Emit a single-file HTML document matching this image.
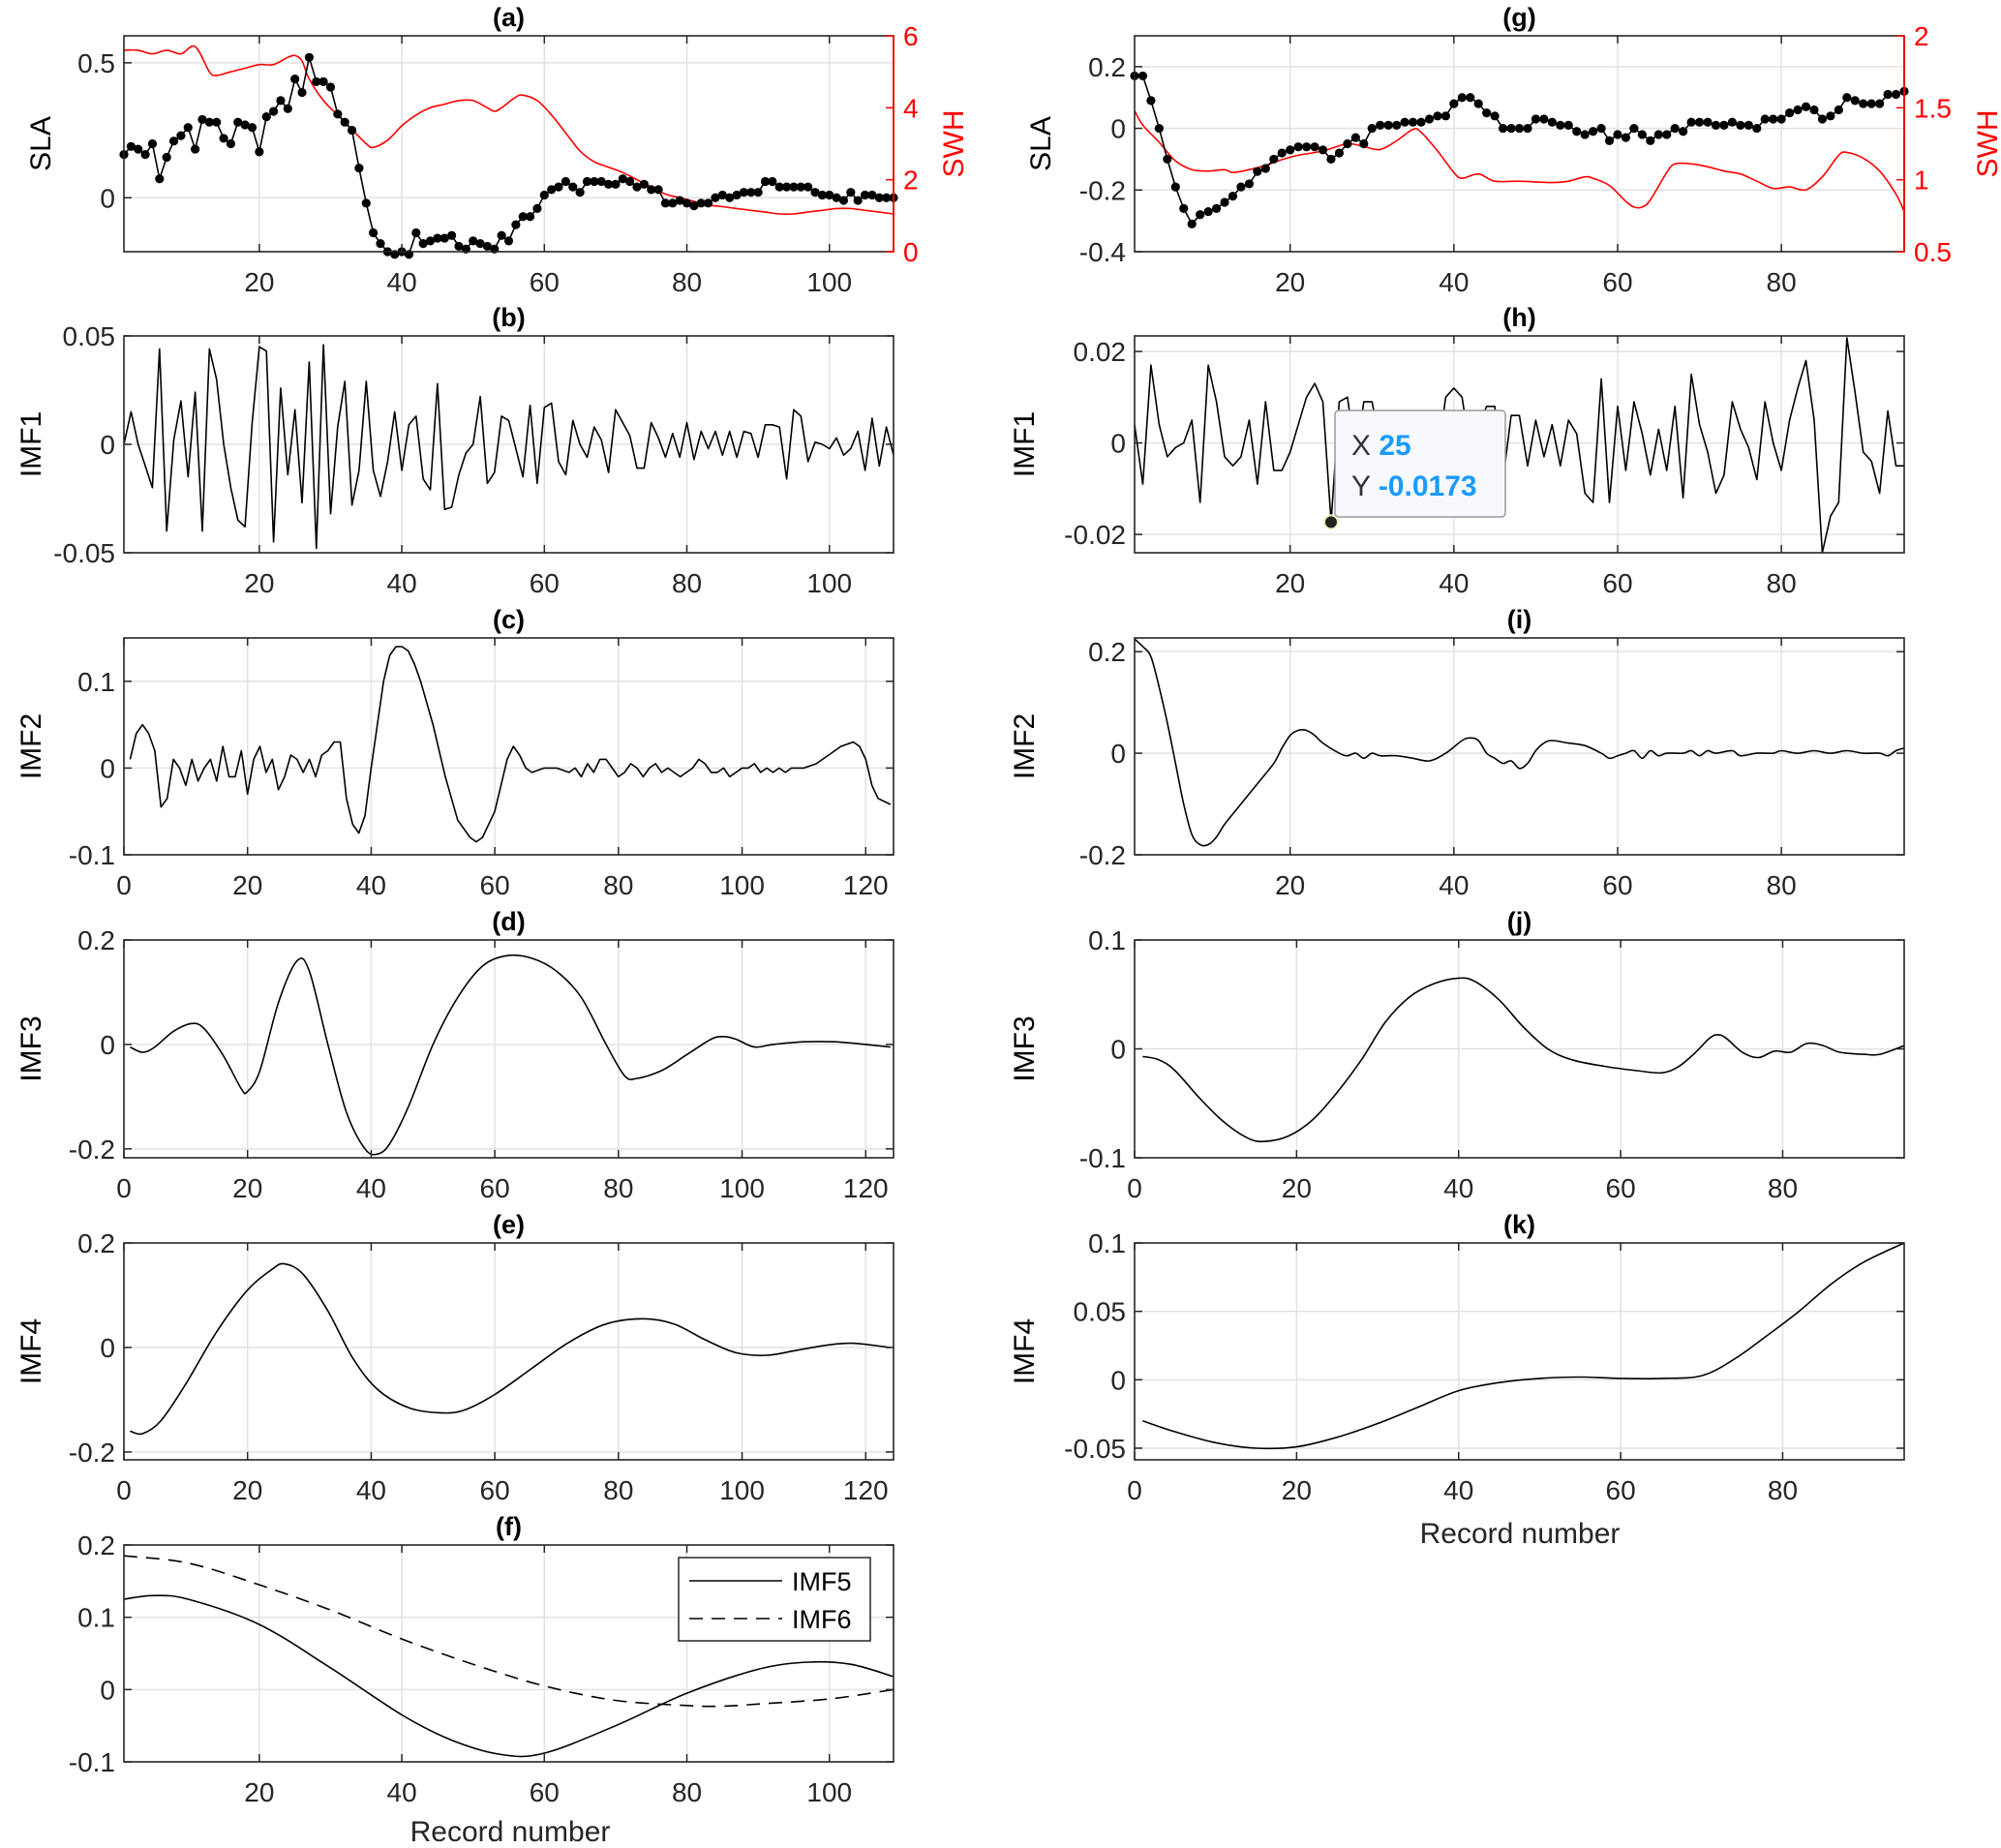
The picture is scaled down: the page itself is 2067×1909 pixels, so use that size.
<!DOCTYPE html>
<html><head><meta charset="utf-8"><style>
html,body{margin:0;padding:0;background:#fff}
svg{display:block;font-family:"Liberation Sans",Arial,sans-serif}
</style></head><body>
<svg id="chart" width="2067" height="1909" viewBox="0 0 2067 1909" xmlns="http://www.w3.org/2000/svg"></svg>
<script>
// ---------- data ----------
const aSLA=[0.16,0.19,0.18,0.16,0.2,0.07,0.15,0.21,0.23,0.26,0.18,0.29,0.28,0.28,0.22,0.2,0.28,0.27,0.26,0.17,0.3,0.32,0.36,0.33,0.44,0.39,0.52,0.43,0.43,0.41,0.31,0.28,0.25,0.11,-0.02,-0.13,-0.17,-0.2,-0.21,-0.2,-0.21,-0.13,-0.17,-0.16,-0.15,-0.15,-0.14,-0.18,-0.19,-0.16,-0.17,-0.18,-0.19,-0.14,-0.16,-0.1,-0.07,-0.07,-0.04,0.01,0.03,0.04,0.06,0.04,0.02,0.06,0.06,0.06,0.05,0.05,0.07,0.06,0.04,0.05,0.03,0.03,-0.02,-0.02,-0.01,-0.02,-0.03,-0.02,-0.02,0.0,0.01,0.0,0.01,0.02,0.02,0.02,0.06,0.06,0.04,0.04,0.04,0.04,0.04,0.02,0.01,0.01,0.0,-0.01,0.02,-0.01,0.01,0.01,0.0,0.0,0.0];
const aSWHx=[1,3,5,7,9,11,13,14,16,18,20,22,24,25,26,27,29,31,33,35,36,38,40,42,44,46,48,50,52,53,54,56,57,59,61,63,65,67,69,71,73,75,77,79,81,83,85,87,89,91,93,95,97,99,101,103,105,107,109];
const aSWH=[5.6,5.6,5.5,5.6,5.5,5.7,5.0,4.9,5.0,5.1,5.2,5.2,5.4,5.45,5.3,4.8,4.2,3.8,3.4,3.0,2.9,3.1,3.5,3.8,4.0,4.1,4.2,4.2,4.0,3.9,4.0,4.3,4.35,4.2,3.8,3.3,2.8,2.5,2.35,2.2,2.0,1.8,1.6,1.5,1.4,1.3,1.25,1.2,1.15,1.1,1.05,1.05,1.1,1.15,1.2,1.2,1.15,1.1,1.05];
const bIMF1=[0.0,0.015,0.0,-0.01,-0.02,0.044,-0.04,0.002,0.02,-0.015,0.024,-0.04,0.044,0.03,0.0,-0.02,-0.035,-0.038,0.01,0.045,0.043,-0.045,0.026,-0.014,0.016,-0.027,0.038,-0.048,0.046,-0.032,0.008,0.029,-0.028,-0.012,0.029,-0.012,-0.024,-0.008,0.015,-0.012,0.009,0.013,-0.016,-0.021,0.028,-0.03,-0.029,-0.014,-0.004,0.0,0.022,-0.018,-0.013,0.013,0.011,-0.002,-0.015,0.018,-0.018,0.017,0.019,-0.008,-0.014,0.011,0.0,-0.006,0.008,0.002,-0.013,0.016,0.01,0.004,-0.011,-0.011,0.01,0.003,-0.006,0.005,-0.006,0.01,-0.007,0.006,-0.002,0.006,-0.005,0.006,-0.006,0.006,0.005,-0.006,0.009,0.009,0.008,-0.016,0.016,0.013,-0.008,0.001,0.0,-0.002,0.003,-0.005,-0.002,0.006,-0.012,0.012,-0.01,0.008,-0.005];
const cX=[1,2,3,4,5,6,7,8,9,10,11,12,13,14,15,16,17,18,19,20,21,22,23,24,25,26,27,28,29,30,31,32,33,34,35,36,37,38,39,40,41,42,43,44,45,46,47,48,50,52,54,56,57,58,60,61,62,63,64,65,66,68,70,72,73,74,75,76,77,78,80,81,82,83,84,85,86,87,88,90,92,93,94,95,96,97,98,99,100,101,102,103,104,105,106,107,108,110,112,114,116,118,119,120,121,122,124];
const cIMF2=[0.01,0.04,0.05,0.04,0.02,-0.045,-0.035,0.01,0.0,-0.02,0.01,-0.015,0.0,0.01,-0.015,0.025,-0.01,-0.01,0.02,-0.03,0.01,0.025,-0.005,0.01,-0.025,-0.01,0.015,0.01,-0.005,0.01,-0.01,0.015,0.02,0.03,0.03,-0.035,-0.065,-0.075,-0.055,0.0,0.05,0.1,0.13,0.14,0.14,0.135,0.12,0.1,0.05,-0.01,-0.06,-0.08,-0.085,-0.08,-0.05,-0.02,0.01,0.025,0.015,0.0,-0.005,0.0,0.0,-0.005,0.0,-0.01,0.005,-0.005,0.01,0.01,-0.01,-0.005,0.005,0.0,-0.01,0.0,0.005,-0.005,0.0,-0.01,0.0,0.01,0.005,-0.005,-0.005,0.0,-0.01,-0.005,0.0,0.0,0.005,-0.005,0.0,-0.005,0.0,-0.005,0.0,0.0,0.005,0.015,0.025,0.03,0.025,0.01,-0.02,-0.035,-0.042];
const dX=[1,3,5,8,11,13,16,19,20,22,25,28,30,33,36,39,41,43,46,50,54,58,62,66,70,74,78,81,83,87,91,95,97,99,102,105,110,115,120,124];
const dIMF3=[-0.005,-0.015,-0.005,0.025,0.04,0.03,-0.02,-0.085,-0.09,-0.05,0.08,0.16,0.14,0.0,-0.13,-0.2,-0.21,-0.19,-0.12,0.0,0.09,0.15,0.17,0.165,0.14,0.09,0.0,-0.06,-0.065,-0.05,-0.02,0.01,0.015,0.01,-0.005,0.0,0.005,0.005,0.0,-0.005];
const eX=[1,3,6,10,15,20,24,26,29,33,37,41,46,51,55,60,66,72,78,84,89,94,99,104,109,114,118,124];
const eIMF4=[-0.16,-0.165,-0.14,-0.07,0.03,0.11,0.15,0.16,0.14,0.07,-0.02,-0.08,-0.115,-0.125,-0.12,-0.09,-0.04,0.01,0.045,0.055,0.045,0.015,-0.01,-0.015,-0.005,0.005,0.008,0.0];
const f5X=[1,5,10,20,30,40,47,54,60,70,80,90,97,103,109];
const fIMF5=[0.125,0.13,0.125,0.09,0.03,-0.035,-0.07,-0.09,-0.088,-0.05,-0.005,0.028,0.038,0.035,0.018];
const f6X=[1,10,20,30,40,50,60,70,80,85,90,100,109];
const fIMF6=[0.185,0.175,0.145,0.11,0.07,0.035,0.005,-0.015,-0.022,-0.023,-0.02,-0.013,0.0];
const gSLA=[0.17,0.17,0.09,0.0,-0.1,-0.19,-0.26,-0.31,-0.28,-0.27,-0.26,-0.24,-0.22,-0.19,-0.18,-0.14,-0.13,-0.1,-0.08,-0.07,-0.06,-0.06,-0.06,-0.07,-0.1,-0.08,-0.05,-0.03,-0.05,0.0,0.01,0.01,0.01,0.02,0.02,0.02,0.03,0.04,0.04,0.08,0.1,0.1,0.08,0.05,0.04,0.0,0.0,0.0,0.0,0.03,0.03,0.02,0.01,0.01,-0.01,-0.02,-0.01,0.0,-0.04,-0.02,-0.03,0.0,-0.02,-0.04,-0.02,-0.02,0.0,-0.01,0.02,0.02,0.02,0.01,0.01,0.02,0.01,0.01,0.0,0.03,0.03,0.03,0.05,0.06,0.07,0.06,0.03,0.04,0.06,0.1,0.09,0.08,0.08,0.08,0.11,0.11,0.12];
const gSWHx=[1,2,4,6,8,10,12,13,15,17,19,21,24,27,29,31,33,35,36,38,40,41,43,45,48,52,54,56,57,59,61,62,63,64,66,67,69,71,73,75,77,79,81,83,85,87,88,90,92,94,95];
const gSWH=[1.48,1.38,1.26,1.13,1.07,1.06,1.07,1.05,1.07,1.1,1.14,1.17,1.2,1.25,1.23,1.21,1.27,1.35,1.33,1.2,1.05,1.01,1.04,0.99,0.99,0.98,0.99,1.02,1.01,0.96,0.85,0.81,0.81,0.86,1.05,1.11,1.11,1.09,1.06,1.04,0.99,0.94,0.95,0.93,1.02,1.17,1.19,1.15,1.06,0.9,0.78];
const hIMF1=[0.004,-0.009,0.017,0.004,-0.003,-0.001,0.0,0.005,-0.013,0.017,0.009,-0.003,-0.005,-0.003,0.005,-0.009,0.009,-0.006,-0.006,-0.002,0.004,0.01,0.013,0.009,-0.0173,0.009,0.01,-0.003,0.009,0.009,0.0,-0.005,0.004,-0.002,0.006,-0.004,0.002,-0.003,0.01,0.012,0.01,-0.002,0.004,0.008,0.008,-0.008,0.006,0.006,-0.005,0.005,-0.003,0.004,-0.005,0.005,0.002,-0.011,-0.013,0.014,-0.013,0.008,-0.006,0.009,0.002,-0.007,0.003,-0.006,0.008,-0.012,0.015,0.004,-0.002,-0.011,-0.007,0.009,0.003,-0.001,-0.008,0.009,0.0,-0.006,0.005,0.012,0.018,0.005,-0.024,-0.016,-0.013,0.023,0.011,-0.002,-0.004,-0.011,0.007,-0.005,-0.005];
const iX=[1,2,3,4,5,6,7,8,9,10,11,12,14,16,18,19,20,21,22,23,24,26,27,28,29,30,31,33,35,37,39,41,42,43,44,45,46,47,48,49,50,51,52,54,56,58,59,60,61,62,63,64,65,66,68,69,70,71,72,74,75,77,79,80,82,84,86,88,90,92,93,94,95];
const iIMF2=[0.225,0.21,0.19,0.13,0.06,-0.02,-0.1,-0.16,-0.18,-0.18,-0.165,-0.14,-0.1,-0.06,-0.02,0.01,0.035,0.045,0.045,0.035,0.02,0.0,-0.005,0.0,-0.01,0.0,-0.005,-0.005,-0.01,-0.015,0.0,0.025,0.03,0.025,0.0,-0.01,-0.02,-0.015,-0.03,-0.02,0.005,0.02,0.025,0.02,0.015,0.0,-0.01,-0.005,0.0,0.005,-0.01,0.005,-0.005,0.0,0.0,0.005,-0.005,0.005,0.0,0.005,-0.005,0.0,0.0,0.005,0.0,0.005,0.0,0.005,0.0,0.0,-0.005,0.005,0.01];
const jX=[1,3,5,8,11,14,16,19,22,25,28,31,34,37,40,42,45,48,51,54,58,62,65,67,69,71,72,73,75,77,79,81,83,85,87,90,92,95];
const jIMF3=[-0.007,-0.01,-0.02,-0.045,-0.067,-0.082,-0.085,-0.08,-0.065,-0.04,-0.01,0.025,0.048,0.06,0.065,0.062,0.045,0.02,0.0,-0.01,-0.016,-0.02,-0.022,-0.017,-0.005,0.01,0.013,0.01,-0.003,-0.008,-0.002,-0.003,0.005,0.003,-0.003,-0.005,-0.005,0.003];
const kX=[1,5,10,15,20,25,30,35,40,45,50,55,60,65,70,74,78,82,86,90,95];
const kIMF4=[-0.03,-0.038,-0.046,-0.05,-0.049,-0.042,-0.032,-0.02,-0.008,-0.002,0.001,0.002,0.001,0.001,0.003,0.015,0.032,0.05,0.07,0.086,0.1];
// tick label arrays
const xt20to100=[20,40,60,80,100], xt0to120=[0,20,40,60,80,100,120], xt20to80=[20,40,60,80], xt0to80=[0,20,40,60,80];

// ---------- drawing ----------
const NS='http://www.w3.org/2000/svg';
const svg=document.getElementById('chart');
function el(tag,attrs,parent,text){const e=document.createElementNS(NS,tag);for(const k in attrs)e.setAttribute(k,attrs[k]);if(text!==undefined)e.textContent=text;(parent||svg).appendChild(e);return e;}
function seq(n){const a=[];for(let i=1;i<=n;i++)a.push(i);return a;}
function fmt(v){return String(v);}
function pathD(P,smooth){
  if(!smooth) return 'M'+P.map(p=>p[0].toFixed(1)+','+p[1].toFixed(1)).join(' L');
  let d='M'+P[0][0].toFixed(1)+','+P[0][1].toFixed(1);
  for(let i=0;i<P.length-1;i++){
    const p0=P[Math.max(0,i-1)],p1=P[i],p2=P[i+1],p3=P[Math.min(P.length-1,i+2)];
    const c1=[p1[0]+(p2[0]-p0[0])/6,p1[1]+(p2[1]-p0[1])/6];
    const c2=[p2[0]-(p3[0]-p1[0])/6,p2[1]-(p3[1]-p1[1])/6];
    d+=' C'+c1[0].toFixed(1)+','+c1[1].toFixed(1)+' '+c2[0].toFixed(1)+','+c2[1].toFixed(1)+' '+p2[0].toFixed(1)+','+p2[1].toFixed(1);
  }
  return d;
}

function panel(o){
  const g=el('g',{});
  
  
  const L=o.L,R=o.R,T=o.T,B=o.B;
  const sx=v=>L+(v-o.x0)/(o.x1-o.x0)*(R-L);
  const sy=v=>B-(v-o.y0)/(o.y1-o.y0)*(B-T);
  o.xt.forEach(t=>{const x=sx(t);if(x>L+1&&x<R-1){const gl=el('line',{x1:x,x2:x,y1:T,y2:B,stroke:'#e2e2e2','stroke-width':1.5},g);}});
  o.yt.forEach(t=>{const y=sy(t);if(y>T+1&&y<B-1){const gl=el('line',{x1:L,x2:R,y1:y,y2:y,stroke:'#e2e2e2','stroke-width':1.5},g);}});
  const cid='clip-'+o.id;
  const cp=el('clipPath',{id:cid},g);el('rect',{x:L,y:T-6,width:R-L,height:B-T+12},cp);
  o.series.forEach(s=>{
    const P=s.x.map((xv,i)=>[sx(xv),sy(s.ys?s.ys(s.y[i]):s.y[i])]);
    const pl=el('path',{d:pathD(P,s.smooth),fill:'none',stroke:s.color||'#000','stroke-width':s.w||1.6,'stroke-dasharray':s.dash||'none','stroke-linejoin':'round','clip-path':'url(#'+cid+')'},g);
    
    
    if(s.dots){P.forEach(p=>{const c=el('circle',{cx:p[0],cy:p[1],r:4.6,fill:'#000'},g);});}
  });
  const ax=el('rect',{x:L,y:T,width:R-L,height:B-T,fill:'none',stroke:'#262626','stroke-width':1.6},g);
  
  if(o.yr){const rl=el('line',{x1:R,x2:R,y1:T,y2:B,stroke:'#ff0000','stroke-width':1.8},g);}
  o.xt.forEach(t=>{const x=sx(t);
    el('line',{x1:x,x2:x,y1:B,y2:B-8,stroke:'#262626','stroke-width':1.5},g);
    el('line',{x1:x,x2:x,y1:T,y2:T+8,stroke:'#262626','stroke-width':1.5},g);
    const tx=el('text',{x:x,y:B+41,'font-size':28,'text-anchor':'middle',fill:'#262626'},g,fmt(t));
    });
  o.yt.forEach(t=>{const y=sy(t);
    el('line',{x1:L,x2:L+8,y1:y,y2:y,stroke:'#262626','stroke-width':1.5},g);
    if(!o.yr) el('line',{x1:R,x2:R-8,y1:y,y2:y,stroke:'#262626','stroke-width':1.5},g);
    const tx=el('text',{x:L-9,y:y+10,'font-size':28,'text-anchor':'end',fill:'#262626'},g,fmt(t));
    });
  if(o.yr){const syr=v=>B-(v-o.yr0)/(o.yr1-o.yr0)*(B-T);
    o.yr.forEach(t=>{const y=syr(t);
      el('line',{x1:R,x2:R-8,y1:y,y2:y,stroke:'#ff0000','stroke-width':1.5},g);
      const tx=el('text',{x:R+10,y:y+10,'font-size':28,'text-anchor':'start',fill:'#ff0000'},g,fmt(t));
      });
    const lab=el('text',{x:o.yrLabX,y:(T+B)/2,'font-size':30,'text-anchor':'middle',fill:'#ff0000',transform:'rotate(-90 '+o.yrLabX+' '+(T+B)/2+')'},g,o.yrLabel);
    }
  const yl=el('text',{x:o.yLabX,y:(T+B)/2,'font-size':30,'text-anchor':'middle',fill:'#000',transform:'rotate(-90 '+o.yLabX+' '+(T+B)/2+')'},g,o.yLabel);
  
  const ti=el('text',{x:(L+R)/2,y:T-10,'font-size':27,'font-weight':'bold','text-anchor':'middle',fill:'#000'},g,o.title);
  
  return {sx,sy,g};
}

const LL=128,LR=923,RL=1172,RR=1967;
const rows=[[37,260],[347,571],[659,883],[971,1196],[1284,1508],[1596,1820]];
const swhAscale=v=>-0.2+v/6*0.8;
const swhGscale=v=>-0.4+(v-0.5)/1.5*0.7;

panel({id:'a',title:'(a)',L:LL,R:LR,T:rows[0][0],B:rows[0][1],x0:1,x1:109,y0:-0.2,y1:0.6,xt:xt20to100,yt:[0,0.5],yr:[0,2,4,6],yr0:0,yr1:6,yrLabel:'SWH',yrLabX:995,yLabel:'SLA',yLabX:52,
  series:[{name:'swh-line',x:aSWHx,y:aSWH,ys:swhAscale,color:'#ff0000',w:1.6,smooth:true},{name:'sla-line',x:seq(aSLA.length),y:aSLA,dots:true}]});
panel({id:'b',title:'(b)',L:LL,R:LR,T:rows[1][0],B:rows[1][1],x0:1,x1:109,y0:-0.05,y1:0.05,xt:xt20to100,yt:[-0.05,0,0.05],yLabel:'IMF1',yLabX:42,
  series:[{name:'imf1-line',x:seq(bIMF1.length),y:bIMF1}]});
panel({id:'c',title:'(c)',L:LL,R:LR,T:rows[2][0],B:rows[2][1],x0:0,x1:124.5,y0:-0.1,y1:0.15,xt:xt0to120,yt:[-0.1,0,0.1],yLabel:'IMF2',yLabX:42,
  series:[{name:'imf2-line',x:cX,y:cIMF2}]});
panel({id:'d',title:'(d)',L:LL,R:LR,T:rows[3][0],B:rows[3][1],x0:0,x1:124.5,y0:-0.217,y1:0.2,xt:xt0to120,yt:[-0.2,0,0.2],yLabel:'IMF3',yLabX:42,
  series:[{name:'imf3-line',x:dX,y:dIMF3,smooth:true}]});
panel({id:'e',title:'(e)',L:LL,R:LR,T:rows[4][0],B:rows[4][1],x0:0,x1:124.5,y0:-0.215,y1:0.2,xt:xt0to120,yt:[-0.2,0,0.2],yLabel:'IMF4',yLabX:42,
  series:[{name:'imf4-line',x:eX,y:eIMF4,smooth:true}]});
panel({id:'f',title:'(f)',L:LL,R:LR,T:rows[5][0],B:rows[5][1],x0:1,x1:109,y0:-0.1,y1:0.2,xt:xt20to100,yt:[-0.1,0,0.1,0.2],yLabel:'',yLabX:42,
  series:[{name:'imf5-line',x:f5X,y:fIMF5,smooth:true},{name:'imf6-line',x:f6X,y:fIMF6,dash:'14 9',smooth:true}]});
(function(){const g=el('g',{});
 el('rect',{x:701,y:1609,width:198,height:86,fill:'#fff',stroke:'#262626','stroke-width':1.5},g);
 el('line',{x1:712,x2:808,y1:1633,y2:1633,stroke:'#000','stroke-width':1.6},g);
 el('line',{x1:712,x2:808,y1:1672,y2:1672,stroke:'#000','stroke-width':1.6,'stroke-dasharray':'14 9'},g);
 const t1=el('text',{x:818,y:1643,'font-size':27,fill:'#000'},g,'IMF5');
 const t2=el('text',{x:818,y:1682,'font-size':27,fill:'#000'},g,'IMF6');})();

panel({id:'g',title:'(g)',L:RL,R:RR,T:rows[0][0],B:rows[0][1],x0:1,x1:95,y0:-0.4,y1:0.3,xt:xt20to80,yt:[-0.4,-0.2,0,0.2],yr:[0.5,1,1.5,2],yr0:0.5,yr1:2,yrLabel:'SWH',yrLabX:2063,yLabel:'SLA',yLabX:1085,
  series:[{name:'swh-line',x:gSWHx,y:gSWH,ys:swhGscale,color:'#ff0000',w:1.6,smooth:true},{name:'sla-line',x:seq(gSLA.length),y:gSLA,dots:true}]});
const ph=panel({id:'h',title:'(h)',L:RL,R:RR,T:rows[1][0],B:rows[1][1],x0:1,x1:95,y0:-0.024,y1:0.0234,xt:xt20to80,yt:[-0.02,0,0.02],yLabel:'IMF1',yLabX:1068,
  series:[{name:'imf1-line',x:seq(hIMF1.length),y:hIMF1}]});
panel({id:'i',title:'(i)',L:RL,R:RR,T:rows[2][0],B:rows[2][1],x0:1,x1:95,y0:-0.2,y1:0.227,xt:xt20to80,yt:[-0.2,0,0.2],yLabel:'IMF2',yLabX:1068,
  series:[{name:'imf2-line',x:iX,y:iIMF2,smooth:true}]});
panel({id:'j',title:'(j)',L:RL,R:RR,T:rows[3][0],B:rows[3][1],x0:0,x1:95,y0:-0.1,y1:0.1,xt:xt0to80,yt:[-0.1,0,0.1],yLabel:'IMF3',yLabX:1068,
  series:[{name:'imf3-line',x:jX,y:jIMF3,smooth:true}]});
panel({id:'k',title:'(k)',L:RL,R:RR,T:rows[4][0],B:rows[4][1],x0:0,x1:95,y0:-0.0585,y1:0.1,xt:xt0to80,yt:[-0.05,0,0.05,0.1],yLabel:'IMF4',yLabX:1068,
  series:[{name:'imf4-line',x:kX,y:kIMF4,smooth:true}]});

(function(){const g=el('g',{});
 const px=ph.sx(25),py=ph.sy(hIMF1[24]);
 el('rect',{x:1379,y:424,width:176,height:110,rx:4,fill:'#f8f9ff',stroke:'#9a9a9a','stroke-width':1.5},g);
 el('circle',{cx:px,cy:py,r:7,fill:'#222',stroke:'#f3efc0','stroke-width':2},g);
 const a=el('text',{x:1396,y:470,'font-size':30,fill:'#333'},g);
 a.innerHTML='X <tspan fill="#1a9bff" font-weight="bold">25</tspan>';
 const b=el('text',{x:1396,y:512,'font-size':30,fill:'#333'},g);
 b.innerHTML='Y <tspan fill="#1a9bff" font-weight="bold">-0.0173</tspan>';})();

const xl1=el('text',{x:527,y:1902,'font-size':30,'text-anchor':'middle',fill:'#262626'},svg,'Record number');

const xl2=el('text',{x:1570,y:1594,'font-size':30,'text-anchor':'middle',fill:'#262626'},svg,'Record number');

</script>
</body></html>
